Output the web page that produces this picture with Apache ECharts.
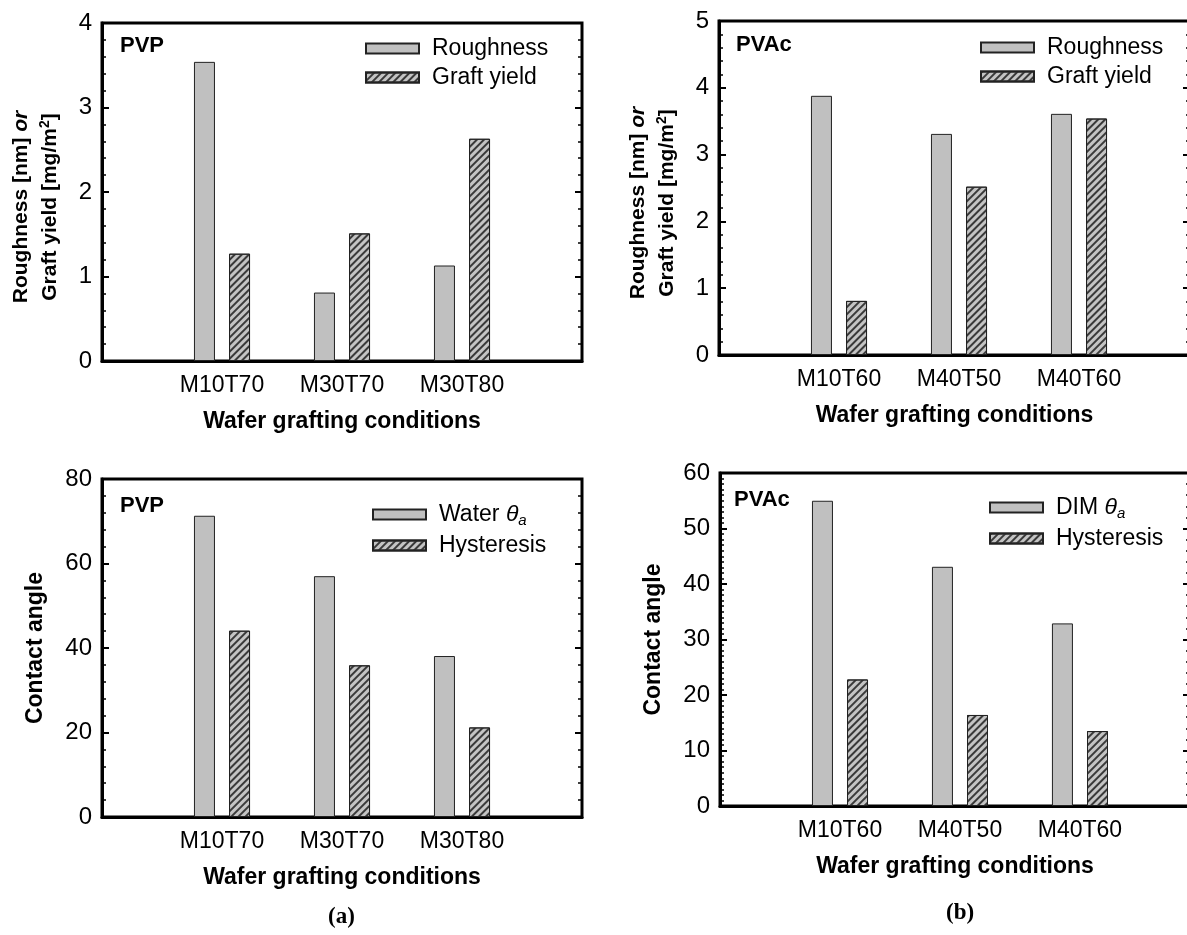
<!DOCTYPE html>
<html>
<head>
<meta charset="utf-8">
<script src="https://cdn.jsdelivr.net/npm/echarts@6.0.0/dist/echarts.min.js"></script>
<style>
  html, body { margin: 0; padding: 0; background: #fff; }
  #main { width: 1187px; height: 935px; }
</style>
</head>
<body>
<div id="main"></div>
<script>
// 各面板的条件（横轴刻度标签）
const cats_pvp = ['M10T70', 'M30T70', 'M30T80'];
const cats_pvac = ['M10T60', 'M40T50', 'M40T60'];

// 上排：粗糙度 / 接枝量
const roughness_pvp = [3.54, 0.81, 1.13];
const graft_pvp = [1.27, 1.51, 2.63];
const roughness_pvac = [3.88, 3.31, 3.61];
const graft_pvac = [0.81, 2.52, 3.54];

// 下排：接触角 / 滞后
const water_pvp = [71.3, 57.0, 38.1];
const hyst_pvp = [44.1, 35.9, 21.2];
const dim_pvac = [55.0, 43.1, 32.9];
const hyst_pvac = [22.8, 16.4, 13.5];

let chart = echarts.init(document.getElementById('main'));

const FONT = '"Liberation Sans", Arial, sans-serif';

// bars sit at x = 1, 2, 3 on a value axis
function pairs(vals) {
    return vals.map(function (v, i) { return [i + 1, v]; });
}

const solidStyle = {
    color: '#c0c0c0',
    borderColor: '#222',
    borderWidth: 1
};
const hatchStyle = {
    color: '#c4c4c4',
    borderColor: '#222',
    borderWidth: 1,
    decal: {
        symbol: 'rect',
        symbolSize: 1,
        dashArrayX: [1, 0],
        dashArrayY: [1.5, 2.5],
        rotation: -Math.PI / 4,
        color: '#3a3a3a'
    }
};

function xAxisFor(gi, cats, max) {
    return {
        type: 'value',
        gridIndex: gi,
        min: 0,
        max: max,
        interval: 1,
        axisLine: { show: true, onZero: false, lineStyle: { color: '#000', width: 3 } },
        axisTick: { show: false },
        splitLine: { show: false },
        axisLabel: {
            fontSize: 23,
            fontFamily: FONT,
            color: '#000',
            margin: 13,
            formatter: function (v) { return cats[v - 1] || ''; }
        },
        name: 'Wafer grafting conditions',
        nameLocation: 'middle',
        nameGap: 49,
        nameTextStyle: { fontSize: 23, fontWeight: 'bold', fontFamily: FONT, color: '#000' }
    };
}

const nameRich = {
    i: { fontStyle: 'italic', fontWeight: 'bold', fontSize: 21, fontFamily: FONT, color: '#000' },
    s: { fontWeight: 'bold', fontSize: 14, fontFamily: FONT, color: '#000', padding: [0, 0, 10, 0] }
};

function yLeft(gi, max, interval, minorSplit, name, nameGap, size, pad) {
    return {
        type: 'value',
        gridIndex: gi,
        position: 'left',
        min: 0,
        max: max,
        interval: interval,
        axisLine: { show: true, lineStyle: { color: '#000', width: 3 } },
        axisTick: { show: true, inside: true, length: 7, lineStyle: { color: '#000', width: 2 } },
        minorTick: { show: true, splitNumber: minorSplit, length: 4, lineStyle: { color: '#000', width: 1.5 } },
        splitLine: { show: false },
        axisLabel: { fontSize: 24, fontFamily: FONT, color: '#000', margin: 10 },
        name: name,
        nameLocation: 'middle',
        nameGap: nameGap,
        nameTextStyle: {
            fontSize: size, fontWeight: 'bold', fontFamily: FONT, color: '#000',
            lineHeight: 29, padding: pad, rich: nameRich
        }
    };
}

function yRight(gi, max, interval, minorSplit) {
    return {
        type: 'value',
        gridIndex: gi,
        position: 'right',
        min: 0,
        max: max,
        interval: interval,
        axisLine: { show: false },
        axisTick: { show: true, inside: true, length: 7, lineStyle: { color: '#000', width: 2 } },
        minorTick: { show: true, splitNumber: minorSplit, length: 4, lineStyle: { color: '#000', width: 1.5 } },
        splitLine: { show: false },
        axisLabel: { show: false }
    };
}

function barSeries(name, vals, gi, style) {
    return {
        name: name,
        type: 'bar',
        xAxisIndex: gi,
        yAxisIndex: gi * 2,
        barWidth: 21,
        barGap: '67%',
        itemStyle: style,
        data: pairs(vals),
        animation: false
    };
}

const legendText = {
    'Water θa': 'Water {t|θ}{s|a}',
    'DIM θa': 'DIM {t|θ}{s|a}'
};

function legendFor(names, left, top) {
    return {
        data: names,
        orient: 'vertical',
        left: left,
        top: top,
        icon: 'rect',
        itemWidth: 53,
        itemHeight: 10,
        itemGap: 6,
        padding: 0,
        selectedMode: false,
        formatter: function (n) { return legendText[n] || n; },
        textStyle: {
            fontSize: 23,
            fontFamily: FONT,
            color: '#000',
            padding: [0, 0, 0, 8],
            rich: {
                t: { fontSize: 23, fontStyle: 'italic', fontFamily: FONT, color: '#000' },
                s: { fontSize: 15, fontStyle: 'italic', fontFamily: FONT, color: '#000', padding: [12, 0, 0, 0] }
            }
        }
    };
}

function gridFor(left, top, width, height) {
    return {
        left: left, top: top, width: width, height: height,
        show: true,
        borderColor: '#000',
        borderWidth: 3,
        backgroundColor: 'transparent',
        outerBoundsMode: 'none',
        containLabel: false
    };
}

function tag(text, left, top, size, family) {
    return {
        text: text,
        left: left,
        top: top,
        padding: 0,
        textStyle: { fontSize: size, fontWeight: 'bold', fontFamily: family || FONT, color: '#000' }
    };
}

const SERIF = '"Liberation Serif", "Times New Roman", serif';
const topName = 'Roughness [nm] {i|or}\nGraft yield [mg/m{s|2}]';

option = {
    backgroundColor: '#fff',
    animation: false,
    title: [
        tag('PVP', 120, 35, 22),
        tag('PVAc', 736, 34, 22),
        tag('PVP', 120, 495, 22),
        tag('PVAc', 734, 489, 22),
        tag('(a)', 328, 906, 23, SERIF),
        tag('(b)', 946, 902, 23, SERIF)
    ],
    grid: [
        gridFor(102, 23, 480, 338),
        gridFor(719, 21, 471, 334),
        gridFor(102, 479, 480, 338),
        gridFor(720, 473, 470, 333)
    ],
    xAxis: [
        xAxisFor(0, cats_pvp, 4),
        xAxisFor(1, cats_pvac, 3.925),
        xAxisFor(2, cats_pvp, 4),
        xAxisFor(3, cats_pvac, 3.917)
    ],
    yAxis: [
        yLeft(0, 4, 1, 5, topName, 37, 21, [0, 30, 0, 0]),
        yRight(0, 4, 1, 5),
        yLeft(1, 5, 1, 5, topName, 37, 21, [0, 30, 0, 0]),
        yRight(1, 5, 1, 5),
        yLeft(2, 80, 20, 5, 'Contact angle', 52, 23, 0),
        yRight(2, 80, 20, 5),
        yLeft(3, 60, 10, 10, 'Contact angle', 52, 23, 0),
        yRight(3, 60, 10, 5)
    ],
    legend: [
        legendFor(['Roughness', 'Graft yield'], 365, 37),
        legendFor(['Roughness', 'Graft yield'], 980, 36),
        legendFor(['Water θa', 'Hysteresis'], 372, 503),
        legendFor(['DIM θa', 'Hysteresis'], 989, 496)
    ],
    series: [
        barSeries('Roughness', roughness_pvp, 0, solidStyle),
        barSeries('Graft yield', graft_pvp, 0, hatchStyle),
        barSeries('Roughness', roughness_pvac, 1, solidStyle),
        barSeries('Graft yield', graft_pvac, 1, hatchStyle),
        barSeries('Water θa', water_pvp, 2, solidStyle),
        barSeries('Hysteresis', hyst_pvp, 2, hatchStyle),
        barSeries('DIM θa', dim_pvac, 3, solidStyle),
        barSeries('Hysteresis', hyst_pvac, 3, hatchStyle)
    ]
};

chart.setOption(option);
</script>
</body>
</html>
